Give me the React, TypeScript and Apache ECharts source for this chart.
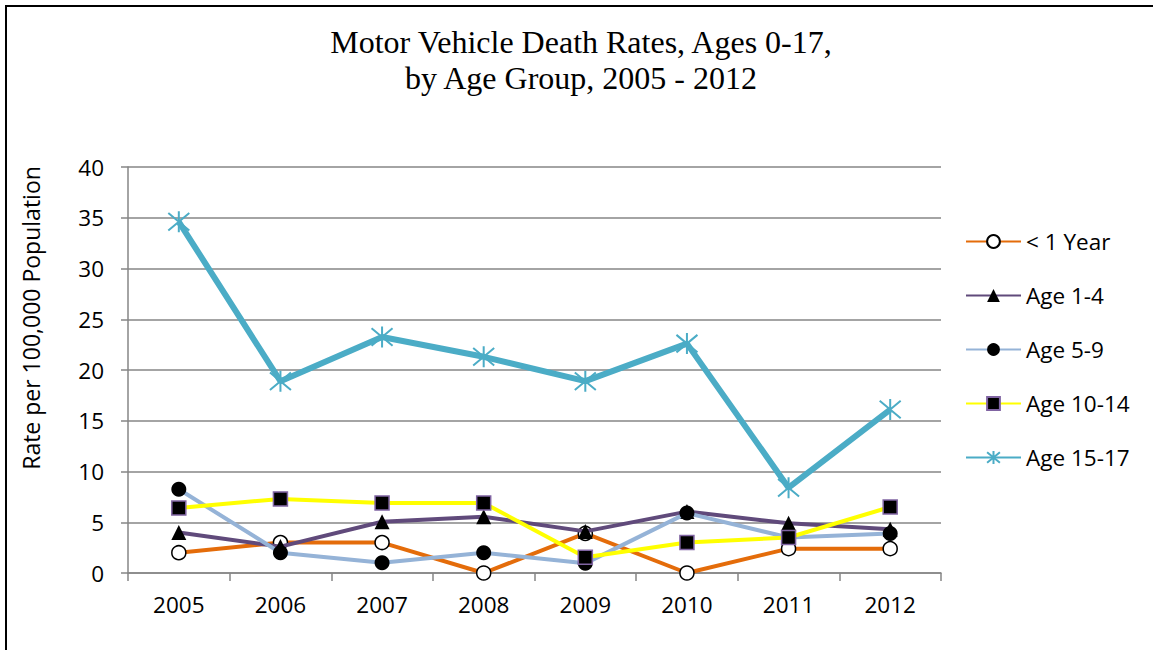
import React, { useEffect, useRef } from "react";
import * as echarts from "echarts";

const years = ["2005", "2006", "2007", "2008", "2009", "2010", "2011", "2012"];
const seriesNames = ["< 1 Year", "Age 1-4", "Age 5-9", "Age 10-14", "Age 15-17"];
const under1 = [2.0, 3.0, 3.0, 0, 3.9, 0, 2.4, 2.4];
const age1to4 = [4.0, 2.6, 5.05, 5.55, 4.1, 6.05, 4.9, 4.3];
const age5to9 = [8.25, 2.0, 1.0, 2.0, 0.95, 5.9, 3.5, 3.9];
const age10to14 = [6.4, 7.3, 6.9, 6.9, 1.55, 3.0, 3.5, 6.5];
const age15to17 = [34.6, 18.9, 23.25, 21.3, 18.9, 22.6, 8.4, 16.1];

const titleLines = ["Motor Vehicle Death Rates, Ages 0-17,", "by Age Group, 2005 - 2012"];
const yAxisTitle = "Rate per 100,000 Population";

const SANS = "'Open Sans', 'Noto Sans', sans-serif";
const SERIF = "'Liberation Serif', 'Times New Roman', serif";
const STAR = "path://M0,0L10,10M10,0L0,10M5,-1L5,11";

export default function App() {
  const ref = useRef<HTMLDivElement>(null);
  useEffect(() => {
    if (!ref.current) return;
    const chart = echarts.init(ref.current, null, { renderer: "svg" });
    const baseLine = (name: string, data: number[], color: string, width: number, z: number) => ({
      name,
      type: "line",
      data,
      z,
      lineStyle: { color, width },
      emphasis: { disabled: true },
    });
    chart.setOption({
      animation: false,
      backgroundColor: "#ffffff",
      textStyle: { fontFamily: SANS },
      graphic: [
        {
          type: "rect",
          shape: { x: 6, y: 6, width: 1300, height: 800 },
          style: { fill: "none", stroke: "#000000", lineWidth: 2 },
          silent: true,
        },
        {
          type: "text",
          x: 581,
          y: 42,
          style: {
            text: titleLines[0],
            fontFamily: SERIF,
            fontSize: 32,
            fill: "#000000",
            textAlign: "center",
            textVerticalAlign: "middle",
          },
        },
        {
          type: "text",
          x: 581,
          y: 78,
          style: {
            text: titleLines[1],
            fontFamily: SERIF,
            fontSize: 32,
            fill: "#000000",
            textAlign: "center",
            textVerticalAlign: "middle",
          },
        },
        {
          type: "text",
          x: 31,
          y: 318,
          rotation: Math.PI / 2,
          style: {
            text: yAxisTitle,
            fontFamily: SANS,
            fontSize: 23,
            fill: "#000000",
            textAlign: "center",
            textVerticalAlign: "middle",
          },
        },
      ],
      grid: { left: 128, right: 212, top: 167, bottom: 77, containLabel: false },
      legend: {
        orient: "vertical",
        left: 960,
        top: 225,
        itemWidth: 55,
        itemHeight: 16,
        itemGap: 31,
        textStyle: { fontFamily: SANS, fontSize: 22.5, color: "#000000", lineHeight: 22 },
        data: seriesNames,
      },
      xAxis: {
        type: "category",
        data: years,
        boundaryGap: true,
        axisLine: { lineStyle: { color: "#868686", width: 1.5 } },
        axisTick: { show: true, length: 8, lineStyle: { color: "#868686", width: 1.5 } },
        axisLabel: { fontFamily: SANS, fontSize: 22.5, color: "#000000", margin: 20 },
        splitLine: { show: false },
      },
      yAxis: {
        type: "value",
        min: 0,
        max: 40,
        interval: 5,
        axisLine: { show: true, lineStyle: { color: "#868686", width: 1.5 } },
        axisTick: { show: true, length: 7, lineStyle: { color: "#868686", width: 1.5 } },
        axisLabel: { fontFamily: SANS, fontSize: 22.5, color: "#000000", margin: 24 },
        splitLine: { show: true, lineStyle: { color: "#868686", width: 1.5 } },
      },
      series: [
        {
          ...baseLine(seriesNames[0], under1, "#E46C0A", 4, 2),
          symbol: "circle",
          symbolSize: 14,
          itemStyle: { color: "#ffffff", borderColor: "#000000", borderWidth: 1.5 },
        },
        {
          ...baseLine(seriesNames[1], age1to4, "#604A7B", 4, 3),
          symbol: "triangle",
          symbolSize: 15,
          itemStyle: { color: "#000000", borderColor: "#000000", borderWidth: 0 },
        },
        {
          ...baseLine(seriesNames[2], age5to9, "#95B3D7", 4, 4),
          symbol: "circle",
          symbolSize: 15,
          itemStyle: { color: "#000000", borderColor: "#000000", borderWidth: 0 },
        },
        {
          ...baseLine(seriesNames[3], age10to14, "#FFFF00", 4, 5),
          symbol: "rect",
          symbolSize: 14,
          itemStyle: { color: "#000000", borderColor: "#8064A2", borderWidth: 1.5 },
        },
        {
          ...baseLine(seriesNames[4], age15to17, "#4BACC6", 6, 6),
          symbol: STAR,
          symbolSize: 21,
          itemStyle: { color: "#4BACC6", borderColor: "#4BACC6", borderWidth: 2 },
        },
      ],
    });
    return () => chart.dispose();
  }, []);
  return (
    <div
      ref={ref}
      style={{ position: "absolute", left: 0, top: 0, width: 1153, height: 650 }}
    />
  );
}
